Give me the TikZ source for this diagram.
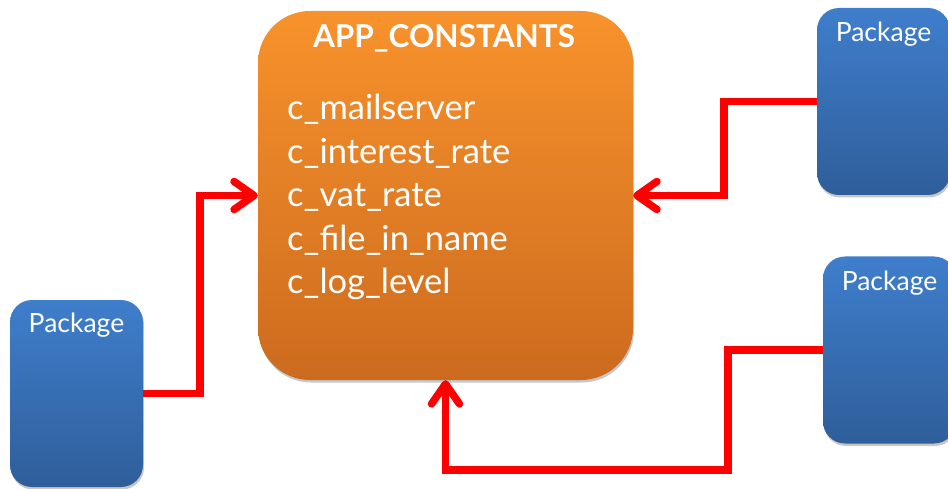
\documentclass[tikz,border=0pt]{standalone}
\usepackage{fontspec}
\setmainfont{Lato}
\usetikzlibrary{arrows.meta,shadows}

\definecolor{orangetop}{HTML}{F8922C}
\definecolor{orangebot}{HTML}{CC6B1E}
\definecolor{bluetop}{HTML}{3F7ECC}
\definecolor{bluebot}{HTML}{2F5E9A}
\definecolor{linkred}{HTML}{FF0000}

\tikzset{
  softshadow/.style={drop shadow={shadow xshift=1pt, shadow yshift=-2.5pt, opacity=.22, fill=black}},
  constbox/.style={rectangle, rounded corners=52pt, draw=none,
    top color=orangetop, bottom color=orangebot, softshadow,
    minimum width=375pt, minimum height=369pt, inner sep=0pt},
  pkgbox/.style={rectangle, rounded corners=22pt, draw=none,
    top color=bluetop, bottom color=bluebot, softshadow,
    minimum width=133pt, minimum height=187pt, inner sep=0pt},
  titletext/.style={text=white, anchor=base, inner sep=0pt,
    font=\fontsize{31.5}{36}\selectfont\bfseries},
  itemtext/.style={text=white, anchor=base west, inner sep=0pt,
    font=\fontsize{34.5}{42}\selectfont},
  pkgtext/.style={text=white, anchor=base, inner sep=0pt,
    font=\fontsize{26.5}{32}\selectfont},
  conn/.style={draw=linkred, line width=7.5pt,
    -{Straight Barb[length=20pt,width=28pt,round]}}
}

\begin{document}
\begin{tikzpicture}[x=1pt,y=-1pt]
  \useasboundingbox (0,0) rectangle (948,489);

  % central constants block
  \node[constbox] (app) at (445.5,195.5) {};
  \node[titletext] (apptitle) at (444,48) {APP\_CONSTANTS};
  \foreach \name/\txt [count=\i from 0] in {
      mail/c\_mailserver, interest/c\_interest\_rate, vat/c\_vat\_rate,
      file/c\_file\_in\_name, log/c\_log\_level}
    \node[itemtext] (item-\name) at (287,120+43.4*\i) {\txt};

  % packages
  \node[pkgbox] (pl) at (76.5,393.5) {};
  \node[pkgtext] (pl-t) at ([yshift=-33pt]pl.north) {Package};
  \node[pkgbox] (pr1) at (883.5,101.5) {};
  \node[pkgtext] (pr1-t) at ([yshift=-34pt]pr1.north) {Package};
  \node[pkgbox] (pr2) at (889.5,350) {};
  \node[pkgtext] (pr2-t) at ([yshift=-34pt]pr2.north) {Package};

  % dependencies on the constants block
  \draw[conn] (pl.east) -- ++(57,0) |- (app.west);
  \draw[conn] (pr1.west) -- ++(-93,0) |- (app.east);
  \draw[conn] (pr2.west) -- ++(-95,0) -- ++(0,120) -| (app.south);
\end{tikzpicture}
\end{document}
